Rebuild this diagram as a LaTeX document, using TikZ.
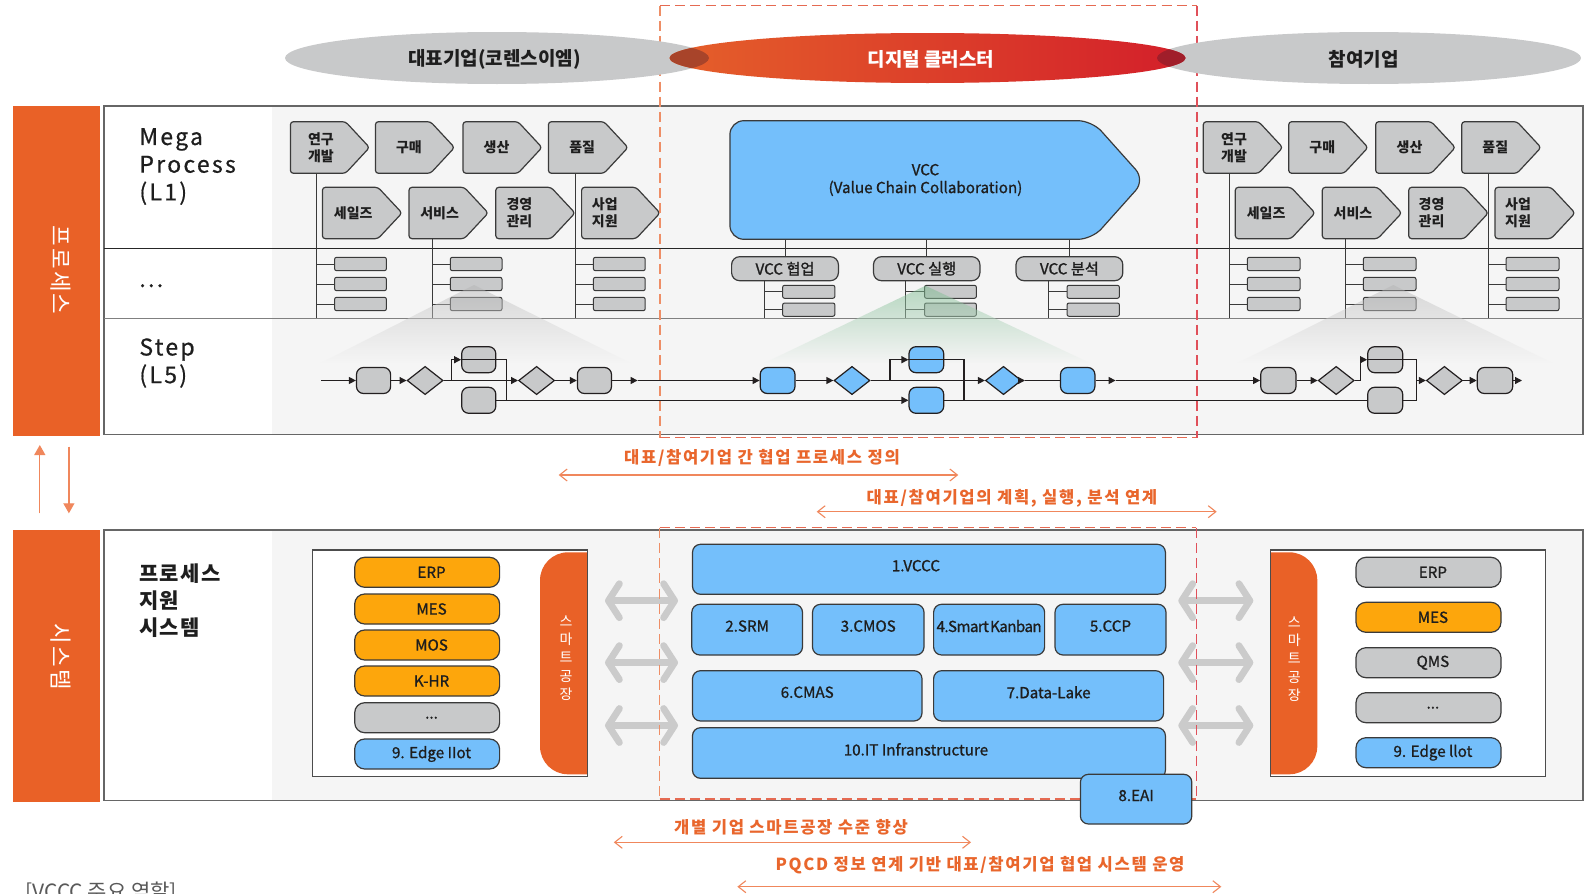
\documentclass[tikz,border=0pt]{standalone}
\usepackage{fontspec}
\setmainfont{Noto Sans CJK KR}
\usetikzlibrary{fit,shapes.geometric,arrows.meta,calc}
\definecolor{orC}{HTML}{E96127}
\definecolor{grC}{HTML}{C8C9CA}
\definecolor{blC}{HTML}{74BFFB}
\definecolor{ylC}{HTML}{FDA60C}
\definecolor{lnC}{HTML}{3A3A3A}
\definecolor{bgC}{HTML}{F5F5F5}
\definecolor{lbC}{HTML}{E9662C}
\definecolor{laC}{HTML}{F0875C}
\definecolor{daC}{HTML}{EE8E66}
\definecolor{drC}{HTML}{E0505A}
\definecolor{dmC}{HTML}{E56A52}
\definecolor{flC}{HTML}{231F20}
\definecolor{gaC}{HTML}{CBCBCB}
\definecolor{dkO}{HTML}{A8442A}
\definecolor{dkR}{HTML}{A01E2A}
\definecolor{txC}{HTML}{1E1E1E}
\newcommand\fsz[2]{\fontsize{#1}{#2}\selectfont}
% chevron: name, x1, y1, x2, y2, text-right-offset, text
\newcommand\chev[7]{%
  \draw[chevshape] (#2,#3) -- ({#4-24},#3) -- (#4,{(#3+#5)/2}) -- ({#4-24},#5) -- (#2,#5) -- cycle;
  \node[chevtext, minimum width={(#4-#6-#2)*0.5pt}, minimum height={(#5-#3)*0.5pt}] (#1) at ({(#2+#4-#6)/2},{(#3+#5)/2}) {#7};
}
% box with separate text: box style, name, x1, y1, x2, y2, text style, text
\newcommand\tb[8]{%
  \node[#1, minimum width={(#5-#3)*0.5pt}, minimum height={(#6-#4)*0.5pt}] (#2) at ({(#3+#5)/2},{(#4+#6)/2}) {};
  \node[#7] (#2t) at (#2.center) {#8};
}
\begin{document}
\begin{tikzpicture}[x=0.5pt,y=-0.5pt,
  chevshape/.style={draw=lnC, fill=grC, line width=0.6pt, rounded corners=1.5pt},
  chevtext/.style={inner sep=0, align=center, text=txC, font=\fsz{7}{8.4}\bfseries},
  bar/.style={draw=lnC, fill=grC, line width=0.5pt, rounded corners=1pt, inner sep=0},
  tree/.style={draw=lnC, line width=0.5pt},
  vlab/.style={draw=lnC, fill=grC, line width=0.6pt, rounded corners=4pt, inner sep=0},
  vlabt/.style={inner sep=0, text=txC, font={\fsz{7.6}{9}\addfontfeature{FakeBold=1.2}}},
  sbox/.style={draw=flC, line width=0.6pt, rounded corners=3.5pt, inner sep=0},
  sdia/.style={diamond, draw=flC, line width=0.6pt, inner sep=0, minimum width=18pt, minimum height=14.15pt},
  fl/.style={draw=flC, line width=0.6pt},
  flow/.style={draw=flC, line width=0.6pt, -{Triangle[length=3.5pt,width=3.5pt]}},
  pill/.style={draw=lnC, line width=0.6pt, rounded corners=5pt, inner sep=0},
  pillt/.style={inner sep=0, xshift=2.2pt, text=txC, font={\fsz{7.6}{9}\addfontfeature{FakeBold=1}}},
  bbox/.style={draw=lnC, fill=blC, line width=0.6pt, rounded corners=4pt, inner sep=0},
  bboxt/.style={inner sep=0, yshift=1.8pt, text=txC, font={\fsz{7.6}{9}\addfontfeature{FakeBold=1}}},
  garrow/.style={draw=gaC, line width=3.4pt, {Straight Barb[length=5.5pt,width=17pt,round]}-{Straight Barb[length=5.5pt,width=17pt,round]}},
  larrow/.style={draw=laC, line width=0.55pt, {Straight Barb[length=3.8pt,width=6pt]}-{Straight Barb[length=3.8pt,width=6pt]}},
  ltext/.style={text=lbC, inner sep=0, font={\fsz{8.3}{10}\bfseries\addfontfeature{LetterSpace=10}}},
  vdash/.style={line width=0.6pt, dash pattern=on 5pt off 2.6pt},
  sidebar/.style={text=white, inner sep=0, font={\fsz{11.2}{13}\addfontfeature{LetterSpace=10}}},
  headt/.style={inner sep=0, text=txC, font={\fsz{11.5}{13.85}\addfontfeature{LetterSpace=10,FakeBold=0.6}}}
]
\clip (0,0) rectangle (1591,894);
\fill[white] (0,0) rectangle (1591,894);

% ---------------- top panel ----------------
\fill[bgC] (104,106) rectangle (1583,434.3);
\fill[white] (104,106) rectangle (271.5,434.3);
\draw[black!60, line width=0.7pt] (104,106) rectangle (1583,434.3);
\draw[black!85, line width=0.5pt] (104,248.3) -- (1583,248.3);
\draw[black!50, line width=0.8pt] (104,318.3) -- (1583,318.3);

\fill[orC] (12.6,106) rectangle (99.7,436);
\node[sidebar, rotate=-90] (side1) at (61,270) {프로세스};

\node[headt, anchor=west, align=left] (megat) at (139,166.5) {Mega\\Process\\(L1)};
\node[headt, anchor=base west] (dots) at (139,287) {...};
\node[headt, anchor=west, align=left] (stept) at (139,363) {Step\\(L5)};

% left chevrons
\chev{lc1}{290.4}{121.7}{369.5}{173.3}{18}{연구\\개발}
\chev{lc2}{375.4}{121.7}{454.5}{173.3}{12}{구매}
\chev{lc3}{463}{121.7}{542}{173.3}{12}{생산}
\chev{lc4}{548.4}{121.7}{628}{173.3}{12}{품질}
\chev{lc5}{322.4}{187.3}{402}{238.7}{18}{세일즈}
\chev{lc6}{409}{187.3}{488.2}{238.7}{18}{서비스}
\chev{lc7}{495.8}{187.3}{575}{238.7}{32}{경영\\관리}
\chev{lc8}{581.6}{187.3}{660}{238.7}{32}{사업\\지원}
% right chevrons
\chev{rc1}{1203.3}{121.7}{1282.7}{173.3}{18}{연구\\개발}
\chev{rc2}{1288.7}{121.7}{1368}{173.3}{12}{구매}
\chev{rc3}{1375.7}{121.7}{1455.3}{173.3}{12}{생산}
\chev{rc4}{1461.7}{121.7}{1541}{173.3}{12}{품질}
\chev{rc5}{1235.3}{187.3}{1315}{238.7}{18}{세일즈}
\chev{rc6}{1322.3}{187.3}{1401.7}{238.7}{18}{서비스}
\chev{rc7}{1408.7}{187.3}{1488.3}{238.7}{34}{경영\\관리}
\chev{rc8}{1495}{187.3}{1575}{238.7}{34}{사업\\지원}

% bars
\foreach \g/\xa/\xb in {1/334.6/386.4, 2/450.3/502, 3/593.4/645.2, 4/1247.3/1300, 5/1363.3/1416, 6/1506/1559}{
  \node[bar, fit={(\xa,257.3)(\xb,270.7)}] (b\g a) {};
  \node[bar, fit={(\xa,277.3)(\xb,290.7)}] (b\g b) {};
  \node[bar, fit={(\xa,297.3)(\xb,310.7)}] (b\g c) {};
}
\coordinate (t1) at (316,318.3);
\coordinate (t2) at (432.2,318.3);
\coordinate (t3) at (575.3,318.3);
\coordinate (t4) at (1229.3,318.3);
\coordinate (t5) at (1345,318.3);
\coordinate (t6) at (1488.3,318.3);
\draw[tree] (lc1.south -| t1) -- (t1);
\draw[tree] (lc6.south -| t2) -- (t2);
\draw[tree] (lc4.south -| t3) -- (t3);
\draw[tree] (rc1.south -| t4) -- (t4);
\draw[tree] (rc6.south -| t5) -- (t5);
\draw[tree] (rc4.south -| t6) -- (t6);
\foreach \g in {1,...,6}{
  \foreach \r in {a,b,c}{
    \draw[tree] (b\g\r.west) -- (b\g\r.west -| t\g);
  }
}

% VCC
\draw[draw=lnC, fill=blC, line width=0.6pt, rounded corners=7pt] (729.9,120.7) -- (1092,120.7) -- (1145,180) -- (1092,239.3) -- (729.9,239.3) -- cycle;
\node[inner sep=0, align=center, text=txC, font={\fsz{7.6}{8.9}\addfontfeature{FakeBold=1}}, minimum width={(1121-729.9)*0.5pt}, minimum height={(239.3-120.7)*0.5pt}] (vcc) at ({(729.9+1121)/2},180) {VCC\\(Value Chain Collaboration)};
\tb{vlab}{va}{731.6}{256.7}{838.4}{280.7}{vlabt}{VCC 협업}
\tb{vlab}{vb}{873.5}{256.7}{979.9}{280.7}{vlabt}{VCC 실행}
\tb{vlab}{vc}{1016}{256.7}{1122.8}{280.7}{vlabt}{VCC 분석}
\draw[tree] (va.north) -- (va.north |- vcc.south);
\draw[tree] (vb.north) -- (vb.north |- vcc.south);
\draw[tree] (vc.north) -- (vc.north |- vcc.south);
\foreach \n/\xa/\xb/\xt in {a/782.6/834.9/764.3, b/924.5/976.4/905.5, c/1067/1119.4/1048.8}{
  \coordinate (vt\n) at (\xt,318.3);
  \node[bar, fit={(\xa,285.3)(\xb,298.3)}] (v\n1) {};
  \node[bar, fit={(\xa,303)(\xb,316.3)}] (v\n2) {};
  \draw[tree] (v\n.south -| vt\n) -- (vt\n);
  \draw[tree] (v\n1.west) -- (v\n1.west -| vt\n);
  \draw[tree] (v\n2.west) -- (v\n2.west -| vt\n);
}

% cones
\shade[top color=black!30, bottom color=bgC, opacity=0.45] (474,285) -- (320,363.3) -- (631.3,363.3) -- cycle;
\shade[top color={rgb,255:red,120;green,185;blue,140}, bottom color=bgC, opacity=0.5] (925.5,285.7) -- (763.6,363.3) -- (1090.8,363.3) -- cycle;
\shade[top color=black!30, bottom color=bgC, opacity=0.45] (1393.3,285) -- (1236.7,363.3) -- (1553.3,363.3) -- cycle;

% step flow left
\coordinate (s0) at (321,380.5);
\node[sbox, fill=grC, fit={(356.5,367.5)(390.6,393.5)}] (LB1) {};
\node[sdia, fill=grC] (LD1) at (425.1,380.5) {};
\coordinate (lbr) at (451.2,380.5);
\node[sbox, fill=grC, fit={(461.7,346.7)(495.8,372.7)}] (LU) {};
\node[sbox, fill=grC, fit={(461.7,387.3)(495.8,413.3)}] (LL) {};
\coordinate (lj) at (506.3,400.3);
\node[sdia, fill=grC] (LD2) at (536.6,380.5) {};
\node[sbox, fill=grC, fit={(577.4,367.5)(611.5,393.5)}] (LB2) {};
\coordinate (la) at (637.6,380.5);
% middle
\node[sbox, fill=blC, fit={(760.2,367.5)(795,393.5)}] (MB1) {};
\node[sdia, fill=blC] (MD1) at (852,380.5) {};
\coordinate (mbr) at (890,380.5);
\node[sbox, fill=blC, fit={(909,346.7)(943.7,372.7)}] (MU) {};
\node[sbox, fill=blC, fit={(909,387.3)(943.7,413.3)}] (ML) {};
\coordinate (mj) at (964,400.3);
\node[sdia, fill=blC] (MD2) at (1003.5,380.5) {};
\coordinate (md2a) at (1025,380.5);
\node[sbox, fill=blC, fit={(1060.5,367.5)(1094.9,393.5)}] (MB3) {};
\coordinate (ma) at (1115.6,380.5);
% right
\node[sbox, fill=grC, fit={(1260.7,367.5)(1296,393.5)}] (RB1) {};
\node[sdia, fill=grC] (RD1) at (1336.2,380.5) {};
\coordinate (rbr) at (1360.7,380.5);
\node[sbox, fill=grC, fit={(1367.7,346.7)(1402.7,372.7)}] (RU) {};
\node[sbox, fill=grC, fit={(1367.7,387.3)(1402.7,413.3)}] (RL) {};
\coordinate (rj) at (1416.7,400.3);
\node[sdia, fill=grC] (RD2) at (1444.4,380.5) {};
\node[sbox, fill=grC, fit={(1477.3,367.5)(1512.7,393.5)}] (RB2) {};
\coordinate (re) at (1522,380.5);

\draw[flow] (s0) -- (LB1);
\draw[flow] (LB1) -- (LD1);
\draw[flow] (LD1) -- (LD2);
\draw[flow] (lbr) |- (LU.west);
\draw[fl] (LU.west) -- (LU.east);
\draw[fl] (LU.east) -| (lj);
\draw[flow] (LL.east) -- (ML.west);
\draw[flow] (LD2) -- (LB2);
\draw[flow] (LB2) -- (la);
\draw[flow] (la) -- (MB1);
\draw[flow] (MB1) -- (MD1);
\draw[flow] (MD1) -- (MD2);
\draw[flow] (mbr) |- (MU.west);
\draw[fl] (MU.west) -- (MU.east);
\draw[fl] (MU.east) -| (mj);
\draw[fl] (ML.east) -- (RL.west);
\draw[flow] (MD2.east) -- (md2a);
\draw[fl] (md2a) -- (MB3.west);
\draw[flow] (MB3) -- (ma);
\draw[flow] (ma) -- (RB1);
\draw[flow] (RB1) -- (RD1);
\draw[fl] (RD1.east) -- (rbr);
\draw[flow] (rbr) |- (RU.west);
\draw[fl] (RU.west) -- (RU.east);
\draw[fl] (RU.east) -| (rj);
\draw[fl] (RL.east) -- (rj);
\draw[flow] (rj |- RD2.west) -- (RD2);
\draw[flow] (RD2) -- (RB2);
\draw[flow] (RB2) -- (re);

% ---------------- between panels ----------------
\coordinate (upS) at (39.8,513.3);
\coordinate (upE) at (39.8,445);
\coordinate (dnS) at (68.9,446.7);
\coordinate (dnE) at (68.9,513.3);
\draw[draw=laC, line width=0.6pt, -{Triangle[length=5pt,width=5.5pt]}] (upS) -- (upE);
\draw[draw=laC, line width=0.6pt, -{Triangle[length=5pt,width=5.5pt]}] (dnS) -- (dnE);

\node[ltext] (lab1) at (762,458) {대표/참여기업 간 협업 프로세스 정의};
\coordinate (l1a) at (558.7,475); \coordinate (l1b) at (958.3,475);
\draw[larrow] (l1a) -- (l1b);
\node[ltext] (lab2) at (1012,498.3) {대표/참여기업의 계획, 실행, 분석 연계};
\coordinate (l2a) at (816.7,511.7); \coordinate (l2b) at (1216.7,511.7);
\draw[larrow] (l2a) -- (l2b);

% ---------------- bottom panel ----------------
\fill[bgC] (104,530) rectangle (1583,800.7);
\fill[white] (104,530) rectangle (272,800.7);
\draw[black!60, line width=0.7pt] (104,530) rectangle (1583,800.7);
\fill[orC] (12.6,530) rectangle (99.7,801.7);
\node[sidebar, rotate=-90] (side2) at (61,657) {시스템};
\node[anchor=west, align=left, inner sep=0, text=txC, font={\fsz{10.5}{13.7}\bfseries\addfontfeature{LetterSpace=6}}] (pst) at (139,600.7) {프로세스\\지원\\시스템};

% left inner box
\fill[white] (312.2,550) rectangle (587.6,776.7);
\begin{scope}
  \clip (312.2,550) rectangle (587.6,776.7);
  \fill[orC, rounded corners=14pt] (540,552.3) rectangle (640,774.3);
\end{scope}
\draw[black!70, line width=0.6pt] (312.2,550) rectangle (587.6,776.7);
\node[align=center, text=white, font=\fsz{7}{9.1}] (sf1) at (566,658) {스\\마\\트\\공\\장};
\tb{pill, fill=ylC}{lp1}{354.7}{557.3}{499.6}{587.3}{pillt}{ERP}
\tb{pill, fill=ylC}{lp2}{354.7}{594}{499.6}{624}{pillt}{MES}
\tb{pill, fill=ylC}{lp3}{354.7}{630}{499.6}{660}{pillt}{MOS}
\tb{pill, fill=ylC}{lp4}{354.7}{666}{499.6}{696}{pillt}{K-HR}
\tb{pill, fill=grC}{lp5}{354.7}{702.7}{499.6}{732.7}{pillt}{...}
\tb{pill, fill=blC}{lp6}{354.7}{739}{499.6}{769}{pillt}{9. Edge IIot}

% right inner box
\fill[white] (1270.7,550) rectangle (1545.3,776.7);
\begin{scope}
  \clip (1270.7,550) rectangle (1545.3,776.7);
  \fill[orC, rounded corners=14pt] (1220,552.3) rectangle (1317.3,774.3);
\end{scope}
\draw[black!70, line width=0.6pt] (1270.7,550) rectangle (1545.3,776.7);
\node[align=center, text=white, font=\fsz{7}{9.1}] (sf2) at (1294.3,659) {스\\마\\트\\공\\장};
\tb{pill, fill=grC}{rp1}{1356}{557.3}{1501}{587.3}{pillt}{ERP}
\tb{pill, fill=ylC}{rp2}{1356}{602.3}{1501}{632.3}{pillt}{MES}
\tb{pill, fill=grC}{rp3}{1356}{647.7}{1501}{677.7}{pillt}{QMS}
\tb{pill, fill=grC}{rp4}{1356}{692.7}{1501}{722.7}{pillt}{...}
\tb{pill, fill=blC}{rp5}{1356}{737.7}{1501}{767.7}{pillt}{9. Edge llot}

% middle system boxes
\tb{bbox}{s1}{692.5}{544.3}{1165.4}{594.3}{bboxt, xshift=-6.5pt}{1.VCCC}
\tb{bbox}{s2}{691.8}{604.3}{802.5}{655}{bboxt}{2.SRM}
\tb{bbox}{s3}{812.5}{604.3}{924}{655}{bboxt}{3.CMOS}
\tb{bbox}{s4}{933.6}{604.3}{1044.6}{655}{bboxt, font={\fsz{7.6}{9}\addfontfeature{FakeBold=1,LetterSpace=-4}}}{4.Smart\hspace{0.6pt}Kanban}
\tb{bbox}{s5}{1055}{604.3}{1166}{655}{bboxt}{5.CCP}
\tb{bbox}{s6}{692.5}{670.7}{922}{721}{bboxt}{6.CMAS}
\tb{bbox}{s7}{933.6}{670.7}{1163.6}{721}{bboxt}{7.Data-Lake}
\tb{bbox}{s10}{692.5}{727.7}{1165.4}{778.3}{bboxt, xshift=-6.5pt}{10.IT Infranstructure}

% gray double arrows
\foreach \k/\yy in {1/600.7, 2/662.6, 3/725.5}{
  \coordinate (ga\k a) at (605,\yy); \coordinate (ga\k b) at (678,\yy);
  \coordinate (gb\k a) at (1178.3,\yy); \coordinate (gb\k b) at (1253.3,\yy);
  \draw[garrow] (ga\k a) -- (ga\k b);
  \draw[garrow] (gb\k a) -- (gb\k b);
}

% dashed frames
\draw[vdash, daC] (660,5.5) -- (660,437.7);
\draw[vdash, dmC] (660,5.5) -- (1197,5.5);
\draw[vdash, dmC] (660,437.7) -- (1197,437.7);
\draw[vdash, drC] (1197,5.5) -- (1197,437.7);
\draw[vdash, daC] (659.6,527.7) -- (659.6,799);
\draw[vdash, dmC] (659.6,527.7) -- (1196.4,527.7);
\draw[vdash, dmC] (659.6,799) -- (1196.4,799);
\draw[vdash, drC] (1196.4,527.7) -- (1196.4,799);

\tb{bbox}{s8}{1080.4}{774.3}{1191.8}{824}{bboxt}{8.EAI}

% ---------------- ellipses ----------------
\fill[grC] (497,58) ellipse [x radius=212, y radius=26];
\fill[grC] (1369,58) ellipse [x radius=212, y radius=26];
\shade[left color={rgb,255:red,229;green,96;blue,42}, middle color={rgb,255:red,224;green,74;blue,42}, right color={rgb,255:red,211;green,31;blue,42}] (927.5,58) ellipse [x radius=258, y radius=25];
\begin{scope}
  \clip (497,58) ellipse [x radius=212, y radius=26];
  \fill[dkO] (927.5,58) ellipse [x radius=258, y radius=25];
\end{scope}
\begin{scope}
  \clip (1369,58) ellipse [x radius=212, y radius=26];
  \fill[dkR] (927.5,58) ellipse [x radius=258, y radius=25];
\end{scope}
\node[inner sep=0, text=txC, font=\fsz{9.5}{11}\bfseries] (e1) at (494.4,59.5) {대표기업(코렌스이엠)};
\node[inner sep=0, text=white, font=\fsz{9.5}{11}\bfseries] (e2) at (931,59) {디지털 클러스터};
\node[inner sep=0, text=txC, font=\fsz{9.5}{11}\bfseries] (e3) at (1363.7,59) {참여기업};

% ---------------- bottom labels ----------------
\node[ltext] (lab3) at (791,827.3) {개별 기업 스마트공장 수준 향상};
\coordinate (l3a) at (613.8,842.3); \coordinate (l3b) at (971,842.3);
\draw[larrow] (l3a) -- (l3b);
\node[ltext] (lab4) at (980,865) {PQCD 정보 연계 기반 대표/참여기업 협업 시스템 운영};
\coordinate (l4a) at (737.4,886.7); \coordinate (l4b) at (1221.3,886.7);
\draw[larrow] (l4a) -- (l4b);
\node[anchor=base west, inner sep=0, text=black!65, font=\fsz{10.5}{12}] (cap) at (25,899) {[VCCC 주요 역할]};
\end{tikzpicture}
\end{document}
